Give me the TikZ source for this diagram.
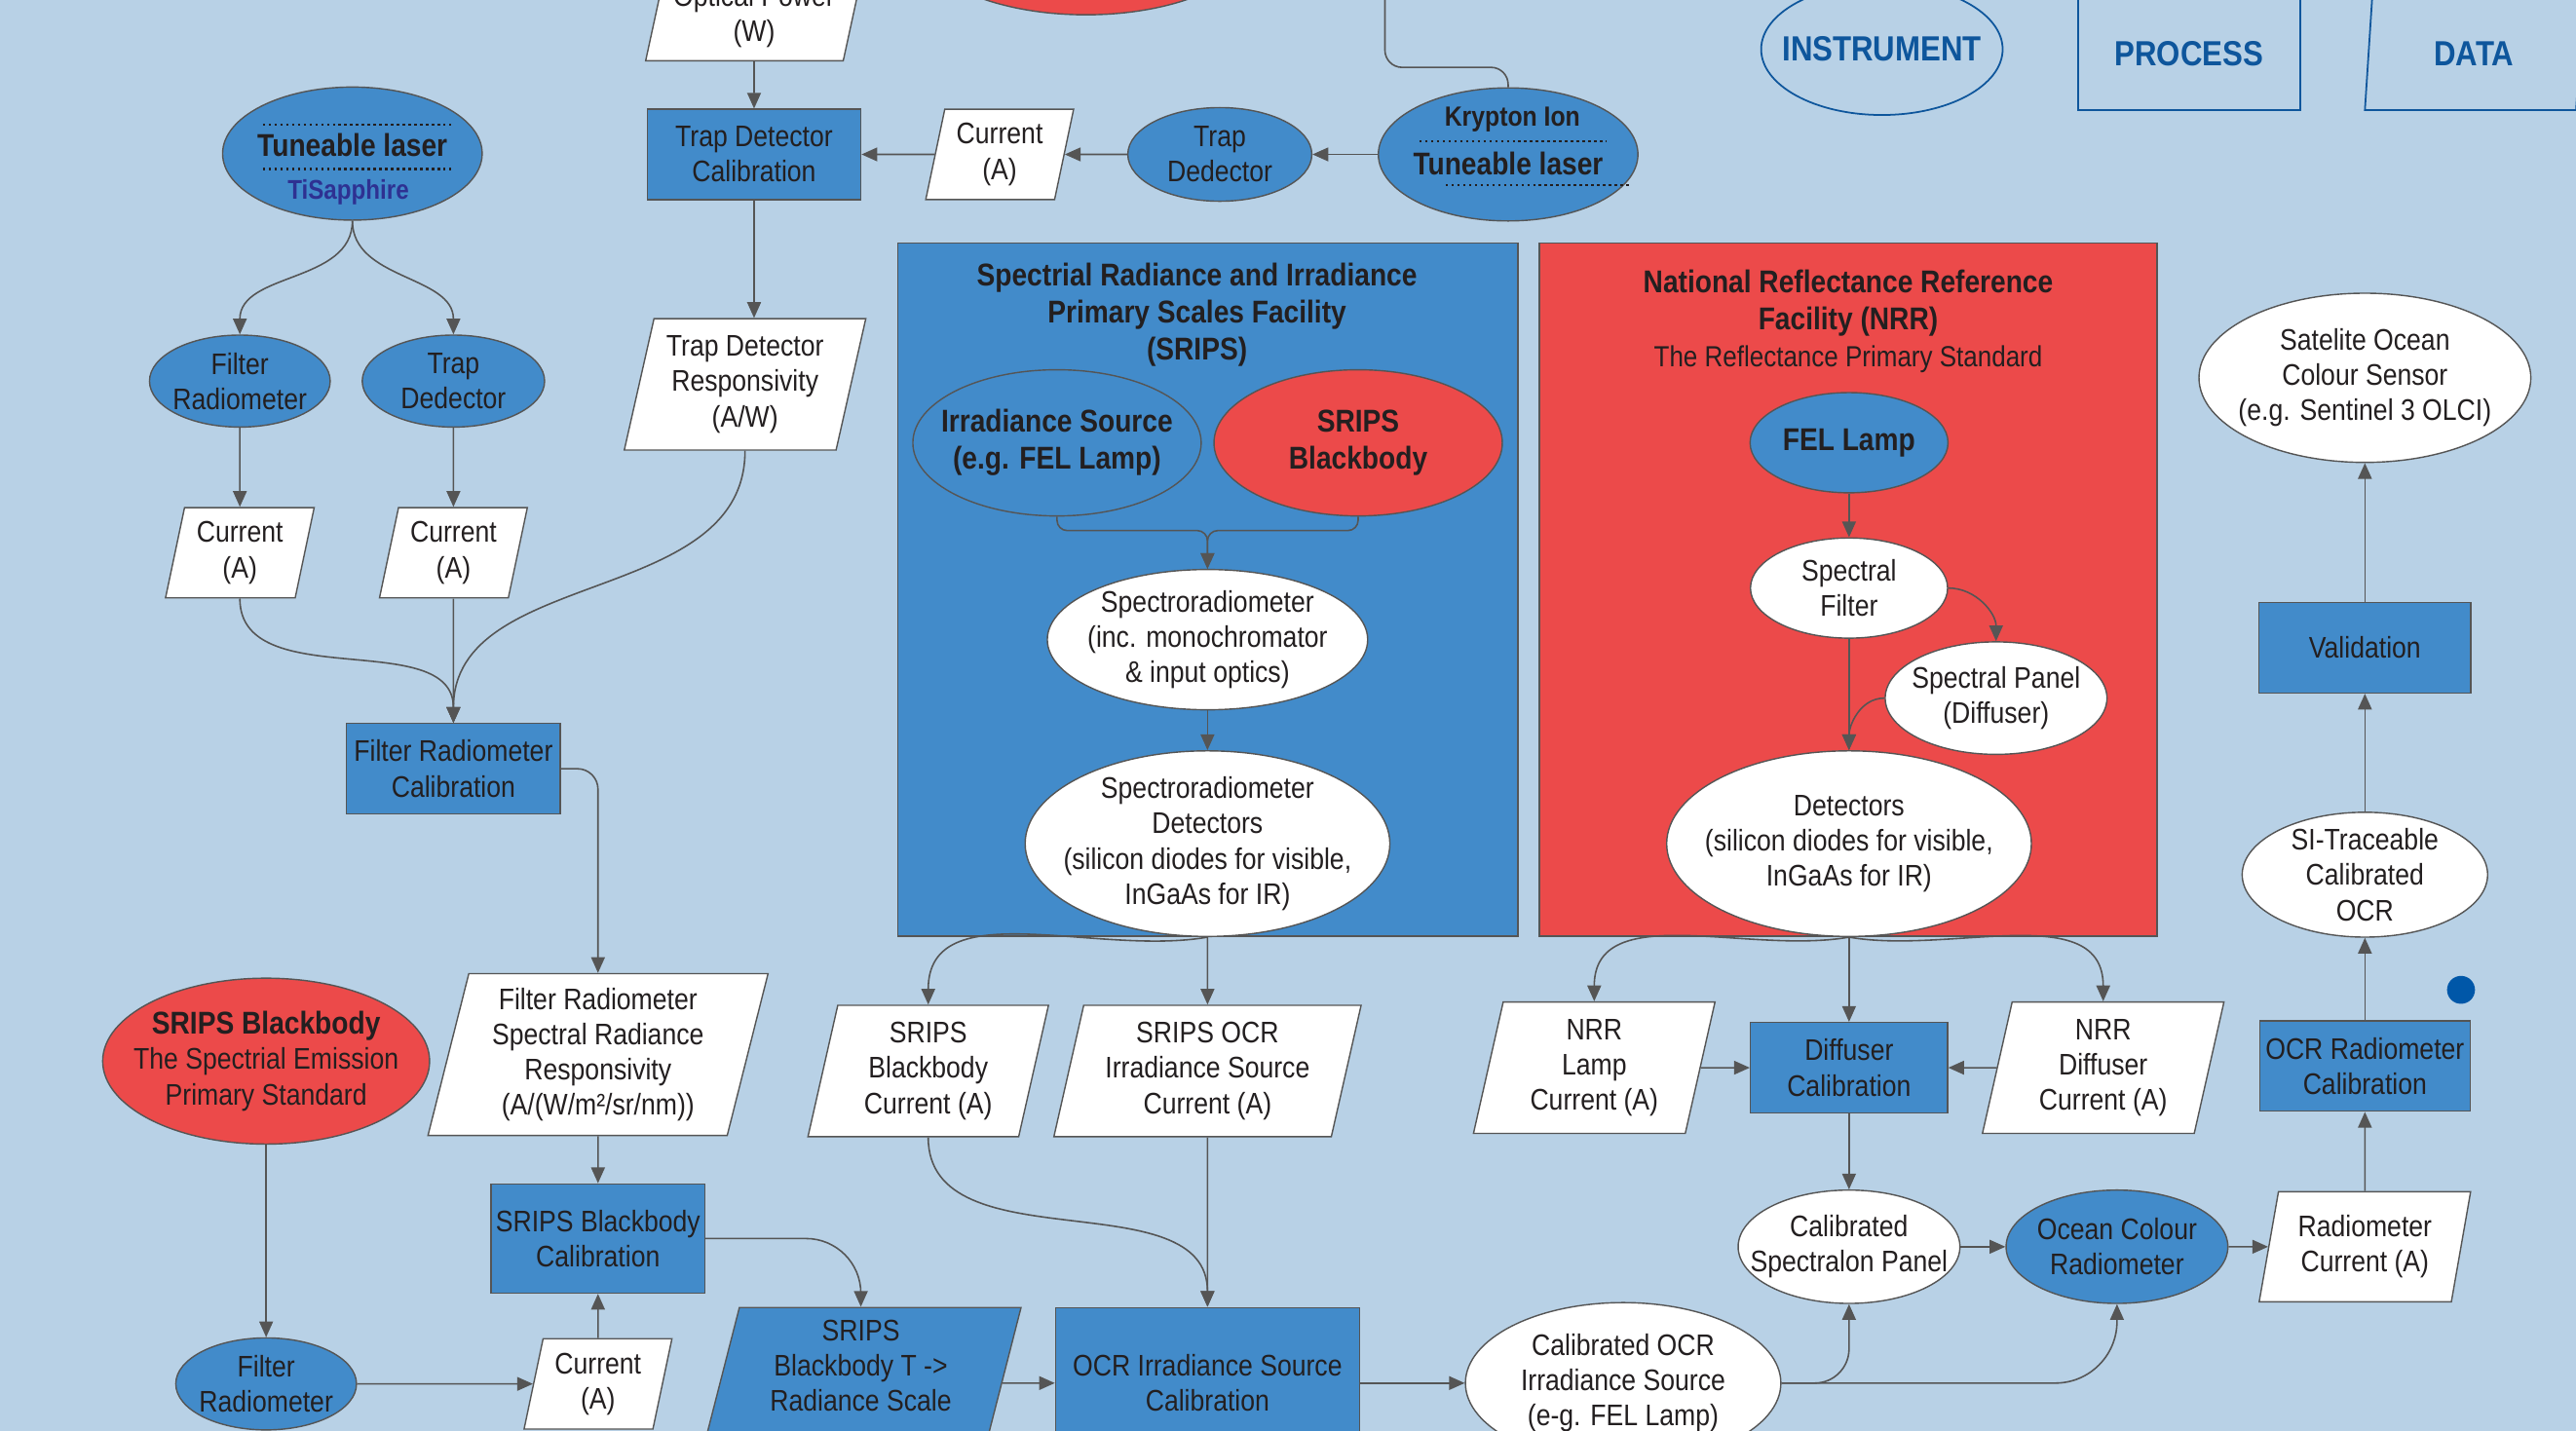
\documentclass[tikz,border=0pt]{standalone}
\usepackage{fontspec}
\setmainfont{Liberation Sans}[FakeStretch=0.87]
\usetikzlibrary{shapes.geometric,arrows.meta}
\definecolor{bgblue}{RGB}{184,209,230}
\definecolor{procblue}{RGB}{66,139,202}
\definecolor{nplred}{RGB}{236,74,74}
\definecolor{linegray}{RGB}{85,85,85}
\definecolor{legblue}{RGB}{14,86,156}
\definecolor{txtblack}{RGB}{35,31,32}
\definecolor{tiblue}{RGB}{46,49,146}
\definecolor{dotblue}{RGB}{0,87,168}
\newcommand{\regtxt}{\fontsize{8.7}{10.3}\selectfont}
\newcommand{\boldtxt}{\fontsize{9.2}{10.8}\selectfont\bfseries}

\begin{document}
\begin{tikzpicture}[x=0.016862cm, y=-0.016862cm,
    sz/.style 2 args={minimum width=#1*0.016862cm, minimum height=#2*0.016862cm},
    instrument/.style={ellipse, draw=linegray, line width=0.4pt, fill=procblue, inner sep=-12pt, align=center, font=\regtxt, text=txtblack},
    whiteinst/.style={instrument, fill=white},
    redinst/.style={instrument, fill=nplred},
    process/.style={rectangle, draw=linegray, line width=0.4pt, fill=procblue, inner sep=0pt, align=center, font=\regtxt, text=txtblack},
    datashape/.style={trapezium, trapezium left angle=73, trapezium right angle=107, trapezium stretches body, draw=linegray, line width=0.4pt, fill=white, inner sep=0pt, align=center, font=\regtxt, text=txtblack},
    legendshape/.style={draw=legblue, line width=0.5pt, inner sep=0pt, font=\fontsize{10.2}{12}\selectfont\bfseries, text=legblue},
    conn/.style={draw=linegray, line width=0.45pt},
    arr/.style={conn, -{Triangle[length=4.6pt,width=4pt]}},
    dotrule/.style={draw=txtblack, line width=0.7pt, dash pattern=on 0.7pt off 1pt}]
  \useasboundingbox (0,0) rectangle (1568,871);
  \clip (0,0) rectangle (1568,871);
  \fill[bgblue] (0,0) rectangle (1568,871);

  % legend
  \node[legendshape, ellipse, inner sep=-12pt, sz={147}{80}] (leginst) at (1145.5,30) {INSTRUMENT};
  \node[legendshape, rectangle, sz={135}{69}] (legproc) at (1332.5,32.5) {PROCESS};
  \node[datashape, legendshape, fill=none, sz={133}{69}] (legdata) at (1506,32.5) {DATA};

  % facilities
  \node[process, sz={377.6}{422}] (sripsbox) at (735.2,359) {};
  \node[process, fill=nplred, sz={376}{422}] (nrrbox) at (1125,359) {};
  \node[align=center, font=\boldtxt, text=txtblack] (sripstitle) at (728.6,191.7)
    {Spectrial Radiance and Irradiance\\Primary Scales Facility\\(SRIPS)};
  \node[align=center, font=\boldtxt, text=txtblack] (nrrtitle) at (1125,195.5)
    {National Reflectance Reference\\Facility (NRR)\\{\mdseries\fontsize{8.5}{10.8}\selectfont The Reflectance Primary Standard}};

  % top row
  \node[redinst, sz={210}{98}] (redtop) at (661,-40) {};
  \node[datashape, sz={132}{54}] (optpow) at (459,10) {Optical Power\\(W)};
  \node[process, sz={130}{55}] (tdcal) at (459,94) {Trap Detector\\Calibration};
  \node[datashape, sz={90}{55}] (cur0) at (608.5,94) {Current\\(A)};
  \node[instrument, sz={112}{57}] (trapdet0) at (742.5,94) {Trap\\Dedector};
  \node[instrument, sz={158}{81}] (kry) at (918,94) {};
  \node[font=\fontsize{8.1}{9.5}\selectfont\bfseries, text=txtblack] (krylbl) at (920.6,73) {Krypton Ion};
  \node[font=\boldtxt, text=txtblack] (krylaser) at (918,99.5) {Tuneable laser};
  \draw[dotrule] (864,86) -- (978,86);
  \draw[dotrule] (880,112.7) -- (993,112.7);
  \coordinate (kryturn) at (843,41);
  \coordinate (kryup) at (843,-30);

  % left column
  \node[instrument, sz={158}{81}] (tisapph) at (214.5,93.5) {};
  \node[font=\boldtxt, text=txtblack] (tislaser) at (214.5,88.6) {Tuneable laser};
  \node[font=\fontsize{7.9}{9.5}\selectfont\bfseries, text=tiblue] (tislbl) at (212,117) {TiSapphire};
  \draw[dotrule] (160,76) -- (275,76);
  \draw[dotrule] (160,103) -- (275,103);
  \node[instrument, sz={110}{56}] (filrad1) at (146,232) {Filter\\Radiometer};
  \node[instrument, sz={111}{56}] (trapdet1) at (276,232) {Trap\\Dedector};
  \node[datashape, sz={90.5}{55}] (cur1) at (146,336.5) {Current\\(A)};
  \node[datashape, sz={90}{55}] (cur2) at (276,336.5) {Current\\(A)};
  \node[datashape, sz={147}{80}] (tdresp) at (453.5,234) {Trap Detector\\Responsivity\\(A/W)};
  \node[process, sz={130}{55}] (frcal) at (276,468) {Filter Radiometer\\Calibration};
  \node[datashape, sz={207}{98.5}] (frsrr) at (364,642)
    {Filter Radiometer\\Spectral Radiance\\Responsivity\\(A/(W/m²/sr/nm))};
  \node[redinst, sz={199}{101}] (sbb) at (162,646)
    {{\boldtxt SRIPS Blackbody}\\The Spectrial Emission\\Primary Standard};
  \node[instrument, sz={110}{56}] (filrad2) at (162,842.5) {Filter\\Radiometer};
  \node[datashape, sz={90}{55}] (cur3) at (364,842.5) {Current\\(A)};
  \node[process, sz={130}{66.5}] (sbcal) at (364,754) {SRIPS Blackbody\\Calibration};
  \node[datashape, fill=procblue, sz={195}{92}] (sbt) at (524,842)
    {SRIPS\\Blackbody T ->\\Radiance Scale\\\mbox{}};
  \node[process, sz={185}{92}] (ocrcal) at (735,842) {OCR Irradiance Source\\Calibration};
  \node[whiteinst, sz={192}{98}] (calocr) at (988,842)
    {Calibrated OCR\\Irradiance Source\\(e-g. FEL Lamp)};

  % SRIPS
  \node[instrument, font=\boldtxt, sz={175.5}{89}] (irr) at (643.4,269.6) {Irradiance Source\\(e.g. FEL Lamp)};
  \node[redinst, font=\boldtxt, sz={175.5}{89}] (srbb) at (826.7,269.6) {SRIPS\\Blackbody};
  \coordinate (srjoin) at (735,323);
  \node[whiteinst, sz={195}{85.4}] (spr) at (735,389.4)
    {Spectroradiometer\\(inc. monochromator\\\& input optics)};
  \node[whiteinst, sz={222}{113}] (sprdet) at (735,513.6)
    {Spectroradiometer\\Detectors\\(silicon diodes for visible,\\InGaAs for IR)};
  \node[datashape, sz={146.4}{80}] (sbbcur) at (565,652) {SRIPS\\Blackbody\\Current (A)};
  \node[datashape, sz={187}{80}] (ocrcur) at (735,652) {SRIPS OCR\\Irradiance Source\\Current (A)};

  % NRR
  \node[instrument, font=\boldtxt, sz={120.5}{61}] (fel) at (1125.5,269.5) {FEL Lamp};
  \node[whiteinst, sz={120}{61}] (sfil) at (1125.5,358) {Spectral\\Filter};
  \node[whiteinst, sz={135}{68.5}] (spanel) at (1215,425) {Spectral Panel\\(Diffuser)};
  \node[whiteinst, sz={222}{113}] (det) at (1125.5,513.6)
    {Detectors\\(silicon diodes for visible,\\InGaAs for IR)};
  \node[datashape, sz={147}{80}] (nrrlamp) at (970.4,650) {NRR\\Lamp\\Current (A)};
  \node[process, sz={120}{55}] (dcal) at (1125.5,650) {Diffuser\\Calibration};
  \node[datashape, sz={147}{80}] (nrrdcur) at (1280.2,650) {NRR\\Diffuser\\Current (A)};
  \node[whiteinst, sz={135}{69}] (cspan) at (1125.5,759) {Calibrated\\Spectralon Panel};
  \node[instrument, sz={135}{69}] (ocr) at (1288.6,759) {Ocean Colour\\Radiometer};
  \node[datashape, sz={128.7}{67}] (radcur) at (1439.5,759) {Radiometer\\Current (A)};
  \node[process, sz={128}{55}] (ocrrcal) at (1439.5,649) {OCR Radiometer\\Calibration};
  \node[whiteinst, sz={149.4}{76}] (sitr) at (1439.5,532.5) {SI-Traceable\\Calibrated\\OCR};
  \node[process, sz={129}{55}] (valid) at (1439.5,394.4) {Validation};
  \node[whiteinst, sz={202}{103}] (sat) at (1439.5,230)
    {Satelite Ocean\\Colour Sensor\\(e.g. Sentinel 3 OLCI)};
  \node[circle, fill=dotblue, inner sep=0pt, sz={17}{17}] (dot) at (1498,602.6) {};

  % connectors
  \draw[arr] (optpow) -- (tdcal);
  \draw[conn, rounded corners=5pt] (kry.north) |- (kryturn) -- (kryup);
  \draw[arr] (kry) -- (trapdet0);
  \draw[arr] (trapdet0) -- (cur0);
  \draw[arr] (cur0) -- (tdcal);
  \draw[arr] (tdcal.south) -- (tdcal.south |- tdresp.north);
  \draw[arr] (tisapph.south) to[out=-90,in=90] (filrad1.north);
  \draw[arr] (tisapph.south) to[out=-90,in=90] (trapdet1.north);
  \draw[arr] (filrad1) -- (cur1);
  \draw[arr] (trapdet1) -- (cur2);
  \draw[arr] (cur1.center |- cur1.south) to[out=-90,in=90] (frcal.north);
  \draw[arr] (cur2) -- (frcal);
  \draw[arr] (tdresp.center |- tdresp.south) to[out=-90,in=90] (frcal.north);
  \draw[arr, rounded corners=6pt] (frcal.east) -| (frsrr.center |- frsrr.north);
  \draw[arr] (frsrr) -- (sbcal);
  \draw[arr] (sbb) -- (filrad2);
  \draw[arr] (filrad2) -- (cur3);
  \draw[arr] (cur3) -- (sbcal);
  \draw[arr, rounded corners=16pt] (sbcal.east) -| (sbt.center |- sbt.north);
  \draw[arr] (sbt) -- (ocrcal);
  \draw[arr] (ocrcal) -- (calocr);
  \draw[arr, rounded corners=3pt] (irr.south) |- (srjoin) -- (spr.north);
  \draw[arr, rounded corners=3pt] (srbb.south) |- (srjoin) -- (spr.north);
  \draw[arr] (spr) -- (sprdet);
  \draw[arr] (sprdet.south) to[out=190,in=90] (sbbcur.north);
  \draw[arr] (sprdet) -- (ocrcur);
  \draw[arr] (sbbcur.center |- sbbcur.south) to[out=-90,in=90] (ocrcal.north);
  \draw[arr] (ocrcur) -- (ocrcal);
  \draw[arr] (fel) -- (sfil);
  \draw[arr] (sfil.east) to[out=0,in=90] (spanel.north);
  \draw[arr] (sfil) -- (det);
  \draw[arr] (spanel.west) to[out=180,in=90] (det.north);
  \draw[arr] (det.south) to[out=190,in=90] (nrrlamp.center |- nrrlamp.north);
  \draw[arr] (det) -- (dcal);
  \draw[arr] (det.south) to[out=-10,in=90] (nrrdcur.north);
  \draw[arr] (nrrlamp) -- (dcal);
  \draw[arr] (nrrdcur) -- (dcal);
  \draw[arr] (dcal) -- (cspan);
  \draw[arr] (cspan) -- (ocr);
  \draw[arr] (ocr) -- (radcur);
  \draw[arr] (radcur) -- (ocrrcal);
  \draw[arr] (ocrrcal) -- (sitr);
  \draw[arr] (sitr) -- (valid);
  \draw[arr] (valid) -- (sat);
  \draw[arr, rounded corners=10pt] (calocr.east) -| (cspan.south);
  \draw[arr, rounded corners=18pt] (calocr.east) -| (ocr.south);
\end{tikzpicture}
\end{document}
